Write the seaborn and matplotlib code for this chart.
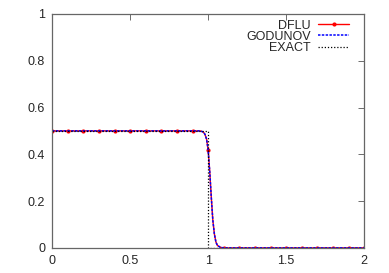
import matplotlib
matplotlib.use("Agg")
import matplotlib.pyplot as plt
import seaborn as sns
import pandas as pd

# Numerical solution (DFLU and GODUNOV coincide)
x_num = [0.0, 0.1, 0.2, 0.3, 0.4, 0.5, 0.6, 0.7, 0.8, 0.9, 0.95, 0.97, 0.98, 0.99,
         1.0, 1.01, 1.02, 1.03, 1.04, 1.05, 1.06, 1.08, 1.1, 1.2, 1.3, 1.4, 1.5,
         1.6, 1.7, 1.8, 1.9, 2.0]
dflu = [0.5, 0.5, 0.5, 0.5, 0.5, 0.5, 0.5, 0.5, 0.5, 0.5, 0.5, 0.495, 0.485, 0.465,
        0.42, 0.33, 0.22, 0.12, 0.06, 0.025, 0.01, 0.002, 0.0, 0.0, 0.0, 0.0, 0.0,
        0.0, 0.0, 0.0, 0.0, 0.0]
godunov = list(dflu)
marker_x = [0.0, 0.1, 0.2, 0.3, 0.4, 0.5, 0.6, 0.7, 0.8, 0.9, 1.0,
            1.1, 1.2, 1.3, 1.4, 1.5, 1.6, 1.7, 1.8, 1.9, 2.0]
# Exact solution
x_exact = [0.0, 1.0, 1.0, 2.0]
exact = [0.5, 0.5, 0.0, 0.0]

sns.set_style("white")
plt.rcParams['font.family'] = ['Liberation Sans', 'DejaVu Sans']

fig, ax = plt.subplots(figsize=(3.89, 2.73), dpi=100)
fig.subplots_adjust(left=0.134, right=0.936, top=0.949, bottom=0.092)

df_num = pd.DataFrame({"x": x_num, "DFLU": dflu, "GODUNOV": godunov})
marker_idx = [x_num.index(m) for m in marker_x]

sns.lineplot(data=df_num, x="x", y="DFLU", ax=ax, color="#ff0000", lw=1.0,
             marker="o", markersize=3, markeredgewidth=0, markevery=marker_idx,
             label="DFLU", estimator=None, sort=False)
sns.lineplot(data=df_num, x="x", y="GODUNOV", ax=ax, color="#0000ff", lw=1.1,
             linestyle=(0, (1.6, 0.9)), label="GODUNOV", estimator=None, sort=False)
df_ex = pd.DataFrame({"x": x_exact, "EXACT": exact})
sns.lineplot(data=df_ex, x="x", y="EXACT", ax=ax, color="black", lw=0.9,
             linestyle=(0, (1, 1.5)), label="EXACT", estimator=None, sort=False)

ax.set_xlim(0, 2)
ax.set_ylim(0, 1)
ax.set_xticks([0, 0.5, 1, 1.5, 2])
ax.set_xticklabels(["0", "0.5", "1", "1.5", "2"])
ax.set_yticks([0, 0.2, 0.4, 0.6, 0.8, 1])
ax.set_yticklabels(["0", "0.2", "0.4", "0.6", "0.8", "1"])
ax.set_xlabel("")
ax.set_ylabel("")
ax.tick_params(direction="in", length=4, width=0.6, color="#555555",
               labelsize=9, top=True, right=True, pad=5)
for s in ax.spines.values():
    s.set_color("#666666")
    s.set_linewidth(0.9)

leg = ax.legend(loc="upper right", bbox_to_anchor=(0.952, 0.976),
                markerfirst=False, frameon=False, fontsize=9,
                handlelength=2.5, handletextpad=0.55, labelspacing=-0.05,
                borderaxespad=0.0, borderpad=0.0)
leg._legend_box.align = "right"
for vp in leg._legend_box.get_children()[1].get_children():
    for c in vp.get_children():
        c.align = "right"

fig.savefig("out.png", dpi=100)
